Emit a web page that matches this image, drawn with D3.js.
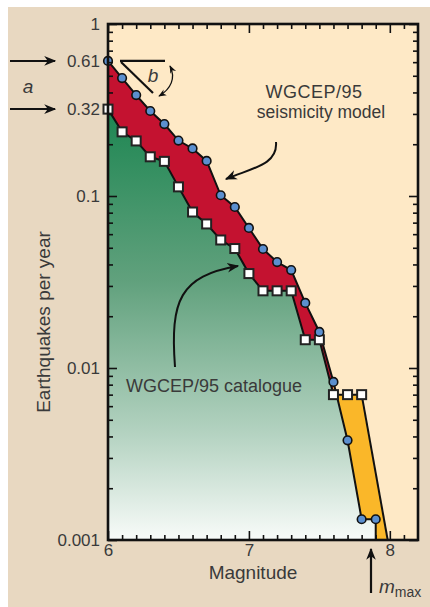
<!DOCTYPE html>
<html>
<head>
<meta charset="utf-8">
<script src="https://cdn.jsdelivr.net/npm/d3@7"></script>
<style>
  body { margin: 0; background: #fff; }
  svg { display: block; }
  text { font-family: "Liberation Sans", Arial, sans-serif; fill: #3a3a3a; }
</style>
</head>
<body>
<svg width="430" height="607"></svg>
<script>
// magnitudes (0.1 steps)
var modelMags = [6.0, 6.1, 6.2, 6.3, 6.4, 6.5, 6.6, 6.7, 6.8, 6.9, 7.0, 7.1, 7.2, 7.3, 7.4, 7.5, 7.6, 7.7, 7.8, 7.9];
// WGCEP/95 seismicity model, earthquakes per year
var modelRates = [0.61, 0.485, 0.386, 0.312, 0.262, 0.210, 0.189, 0.160, 0.101, 0.0863, 0.0652, 0.0492, 0.0413, 0.0371, 0.0239, 0.0162, 0.0083, 0.0038, 0.00132, 0.00132];

var catMags = [6.0, 6.1, 6.2, 6.3, 6.4, 6.5, 6.6, 6.7, 6.8, 6.9, 7.0, 7.1, 7.2, 7.3, 7.4, 7.5, 7.6, 7.7, 7.8];
// WGCEP/95 catalogue, earthquakes per year
var catRates = [0.32, 0.236, 0.209, 0.169, 0.159, 0.113, 0.0807, 0.0688, 0.0555, 0.0495, 0.0354, 0.0281, 0.0281, 0.0281, 0.0146, 0.0146, 0.007, 0.007, 0.007];

// upper bound line down to m_max
var maxLine = [[7.8, 0.007], [7.985, 0.001]];

var yTickLabels = [1, 0.61, 0.32, 0.1, 0.01, 0.001];
var yMajor = [1, 0.1, 0.01, 0.001];
var xMajor = [6, 7, 8];

var svg = d3.select('svg');
var W = 430, H = 607;
var plot = {l: 108, t: 24, r: 418, b: 540};

var x = d3.scaleLinear().domain([6, 8.2]).range([plot.l, plot.r]);
var y = d3.scaleLog().domain([0.001, 1]).range([plot.b, plot.t]);

var model = modelMags.map(function(m, i) { return [m, modelRates[i]]; });
var cat = catMags.map(function(m, i) { return [m, catRates[i]]; });

// backgrounds
svg.append('rect').attr('x', 8).attr('y', 7).attr('width', W - 8).attr('height', H - 7).attr('fill', '#e8d8c1');
svg.append('rect').attr('x', plot.l).attr('y', plot.t).attr('width', plot.r - plot.l).attr('height', plot.b - plot.t).attr('fill', '#fee9c6');

var defs = svg.append('defs');
var grad = defs.append('linearGradient').attr('id', 'green')
    .attr('gradientUnits', 'userSpaceOnUse')
    .attr('x1', 0).attr('x2', 0).attr('y1', y(0.32)).attr('y2', plot.b);
grad.append('stop').attr('offset', '0%').attr('stop-color', '#1d8652');
grad.append('stop').attr('offset', '40%').attr('stop-color', '#61a17d');
grad.append('stop').attr('offset', '75%').attr('stop-color', '#b3d2c0');
grad.append('stop').attr('offset', '100%').attr('stop-color', '#f8fbf9');

function arrowMarker(id, size) {
    defs.append('marker').attr('id', id)
        .attr('viewBox', '0 0 10 10').attr('refX', 9).attr('refY', 5)
        .attr('markerWidth', size).attr('markerHeight', size)
        .attr('markerUnits', 'userSpaceOnUse')
        .attr('orient', 'auto-start-reverse')
        .append('path').attr('d', 'M0,1 L10,5 L0,9 L3,5 Z').attr('fill', '#111');
}
arrowMarker('arrow', 12);
arrowMarker('arrowSmall', 8);

var line = d3.line().x(function(d) { return x(d[0]); }).y(function(d) { return y(d[1]); });

// green area under the catalogue
var greenPts = cat.concat([maxLine[1], [6.0, 0.001]]);
svg.append('path').attr('d', line(greenPts) + 'Z').attr('fill', 'url(#green)');

// red band: model above catalogue
var i76 = 16;
var redPts = model.slice(0, i76 + 1).concat(cat.slice(0, i76 + 1).reverse());
svg.append('path').attr('d', line(redPts) + 'Z').attr('fill', '#c41230');

// orange band: catalogue above model
var orangePts = cat.slice(i76).concat([maxLine[1], [7.9, 0.001]]).concat(model.slice(i76).reverse());
svg.append('path').attr('d', line(orangePts) + 'Z').attr('fill', '#fab729');

// lines
svg.append('path').attr('d', line(model.concat([[7.9, 0.001]])))
    .attr('fill', 'none').attr('stroke', '#111').attr('stroke-width', 2);
svg.append('path').attr('d', line(cat))
    .attr('fill', 'none').attr('stroke', '#111').attr('stroke-width', 2);
svg.append('path').attr('d', line(maxLine))
    .attr('fill', 'none').attr('stroke', '#111').attr('stroke-width', 2);

// catalogue squares
svg.selectAll('.sq').data(cat).enter().append('rect')
    .attr('class', 'sq')
    .attr('x', function(d) { return x(d[0]) - 4.5; })
    .attr('y', function(d) { return y(d[1]) - 4.5; })
    .attr('width', 9).attr('height', 9)
    .attr('fill', '#fff').attr('stroke', '#222').attr('stroke-width', 2);

// model circles
svg.selectAll('.dot').data(model).enter().append('circle')
    .attr('class', 'dot')
    .attr('cx', function(d) { return x(d[0]); })
    .attr('cy', function(d) { return y(d[1]); })
    .attr('r', 4.3)
    .attr('fill', '#5b8fcf').attr('stroke', '#111').attr('stroke-width', 1.6);

// axes with inward ticks
var minorY = y.ticks().filter(function(v) { return yMajor.indexOf(v) < 0; });
var minorX = d3.range(61, 82).map(function(v) { return v / 10; }).filter(function(v) { return v % 1 !== 0; });

function tickAxis(axis, tx, ty, vals, len) {
    var g = svg.append('g').attr('transform', 'translate(' + tx + ',' + ty + ')')
        .call(axis.tickValues(vals).tickSize(-len).tickFormat(''));
    g.select('.domain').remove();
    g.selectAll('line').attr('stroke', '#111').attr('stroke-width', 1.6);
}
tickAxis(d3.axisLeft(y), plot.l, 0, minorY, 5);
tickAxis(d3.axisLeft(y), plot.l, 0, yMajor, 9);
tickAxis(d3.axisRight(y), plot.r, 0, minorY, 5);
tickAxis(d3.axisRight(y), plot.r, 0, yMajor, 9);
tickAxis(d3.axisBottom(x), 0, plot.b, minorX, 5);
tickAxis(d3.axisBottom(x), 0, plot.b, xMajor, 9);
tickAxis(d3.axisTop(x), 0, plot.t, minorX, 5);
tickAxis(d3.axisTop(x), 0, plot.t, xMajor, 9);

// tick labels
var yLab = svg.append('g').attr('transform', 'translate(' + plot.l + ',0)')
    .call(d3.axisLeft(y).tickValues(yTickLabels).tickSize(0).tickPadding(8)
        .tickFormat(function(d) { return String(d); }));
yLab.select('.domain').remove();
yLab.selectAll('text').style('font-size', '17px').attr('fill', '#3a3a3a')
    .style('font-family', '"Liberation Sans", Arial, sans-serif');

var xLab = svg.append('g').attr('transform', 'translate(0,' + plot.b + ')')
    .call(d3.axisBottom(x).tickValues(xMajor).tickSize(0).tickPadding(4).tickFormat(d3.format('d')));
xLab.select('.domain').remove();
xLab.selectAll('text').style('font-size', '17px').attr('fill', '#3a3a3a')
    .style('font-family', '"Liberation Sans", Arial, sans-serif');

// frame
svg.append('rect').attr('x', plot.l).attr('y', plot.t)
    .attr('width', plot.r - plot.l).attr('height', plot.b - plot.t)
    .attr('fill', 'none').attr('stroke', '#111').attr('stroke-width', 2.6);

// axis titles
svg.append('text').attr('x', 253).attr('y', 579).attr('text-anchor', 'middle')
    .style('font-size', '19px').text('Magnitude');
svg.append('text').attr('transform', 'translate(50,322) rotate(-90)').attr('text-anchor', 'middle')
    .style('font-size', '19px').text('Earthquakes per year');

// series labels
svg.append('text').attr('x', 314).attr('y', 98).attr('text-anchor', 'middle')
    .style('font-size', '18px').style('letter-spacing', '0.5px').text('WGCEP/95');
svg.append('text').attr('x', 321).attr('y', 118).attr('text-anchor', 'middle')
    .style('font-size', '17.5px').text('seismicity model');
svg.append('text').attr('x', 214).attr('y', 392).attr('text-anchor', 'middle')
    .style('font-size', '18px').text('WGCEP/95 catalogue');

// curved pointers
svg.append('path').attr('d', 'M276,142 C278,165 252,168 226,179')
    .attr('fill', 'none').attr('stroke', '#111').attr('stroke-width', 2).attr('marker-end', 'url(#arrow)');
svg.append('path').attr('d', 'M175,367 C170,300 180,276 238,266')
    .attr('fill', 'none').attr('stroke', '#111').attr('stroke-width', 2).attr('marker-end', 'url(#arrow)');

// a-value arrows on the left
[0.61, 0.32].forEach(function(v) {
    svg.append('line').attr('x1', 10).attr('x2', 55).attr('y1', y(v)).attr('y2', y(v))
        .attr('stroke', '#111').attr('stroke-width', 2).attr('marker-end', 'url(#arrow)');
});
svg.append('text').attr('x', 28).attr('y', 93).attr('text-anchor', 'middle')
    .style('font-size', '19px').style('font-style', 'italic').text('a');

// b-value slope marker
var y0 = y(0.61);
svg.append('line').attr('x1', 120).attr('x2', 165).attr('y1', y0).attr('y2', y0)
    .attr('stroke', '#111').attr('stroke-width', 2.2);
svg.append('line').attr('x1', 121).attr('x2', 153).attr('y1', y0 + 1).attr('y2', y0 + 32)
    .attr('stroke', '#111').attr('stroke-width', 2.2);
svg.append('text').attr('x', 153).attr('y', 82).attr('text-anchor', 'middle')
    .style('font-size', '19px').style('font-style', 'italic').text('b');
svg.append('path').attr('d', 'M170,66 C176,78 171,89 159,96')
    .attr('fill', 'none').attr('stroke', '#111').attr('stroke-width', 1.3)
    .attr('marker-start', 'url(#arrowSmall)').attr('marker-end', 'url(#arrowSmall)');

// m_max pointer
svg.append('line').attr('x1', 371).attr('x2', 371).attr('y1', 593).attr('y2', 549)
    .attr('stroke', '#111').attr('stroke-width', 2.2).attr('marker-end', 'url(#arrow)');
var mm = svg.append('text').attr('x', 379).attr('y', 593).style('font-size', '19px');
mm.append('tspan').style('font-style', 'italic').text('m');
mm.append('tspan').attr('dy', 4).style('font-size', '14px').text('max');
</script>
</body>
</html>
